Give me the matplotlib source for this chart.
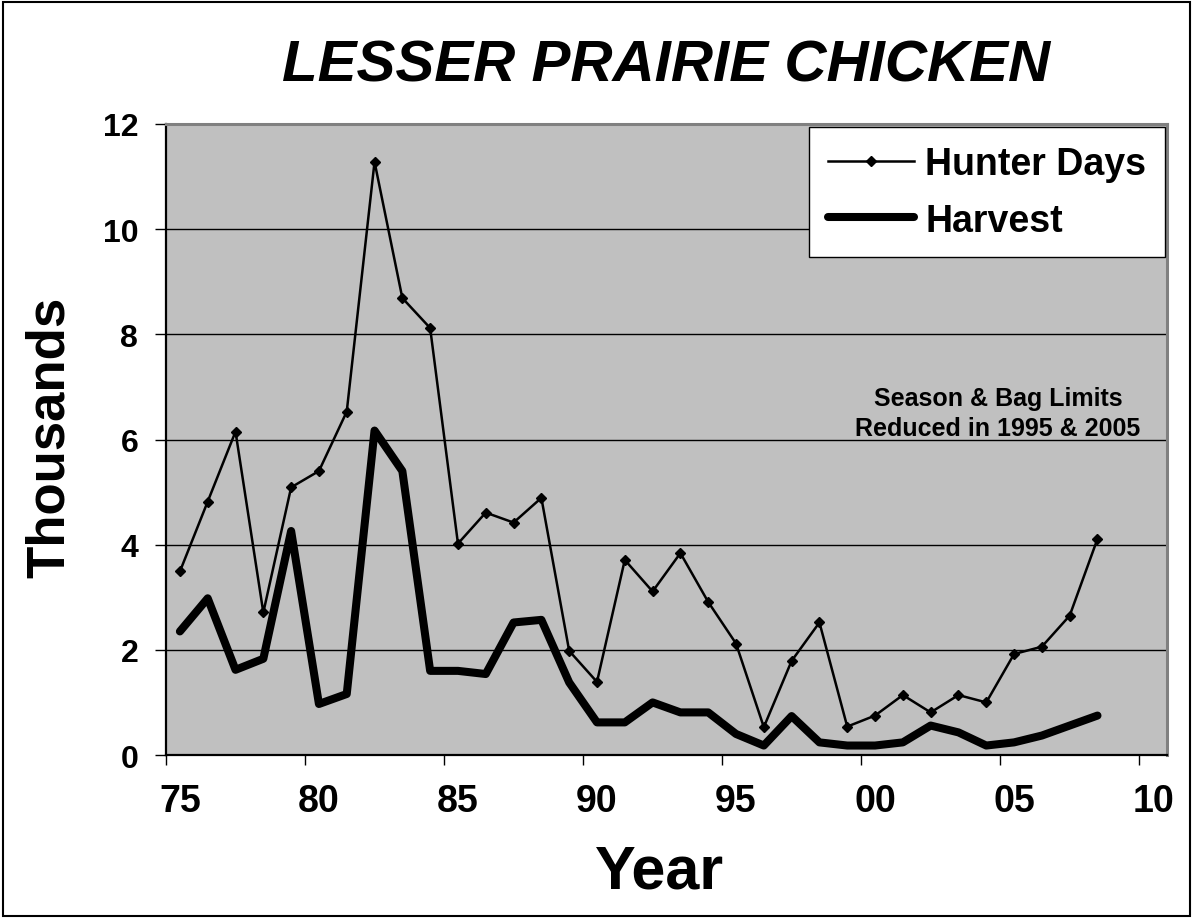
import matplotlib
matplotlib.use("Agg")
import matplotlib.pyplot as plt
from matplotlib.patches import Rectangle
import numpy as np

plt.rcParams['font.family'] = ['Liberation Sans', 'DejaVu Sans']

# ---- data (thousands) ----
years = list(range(1975, 2009))
hunter_days = [3.49, 4.82, 6.15, 2.71, 5.09, 5.40, 6.53, 11.28, 8.69, 8.12,
               4.02, 4.61, 4.42, 4.89, 1.98, 1.39, 3.71, 3.11, 3.84, 2.91,
               2.12, 0.53, 1.79, 2.52, 0.54, 0.75, 1.14, 0.81, 1.14, 1.00,
               1.92, 2.06, 2.65, 4.11]
harvest = [2.35, 2.98, 1.62, 1.83, 4.26, 0.97, 1.16, 6.17, 5.40, 1.60,
           1.60, 1.54, 2.52, 2.57, 1.38, 0.62, 0.62, 1.00, 0.81, 0.81,
           0.40, 0.18, 0.74, 0.24, 0.18, 0.18, 0.24, 0.56, 0.43, 0.18,
           0.24, 0.37, 0.56, 0.75]
tick_years = [1975, 1980, 1985, 1990, 1995, 2000, 2005, 2010]
tick_labels = ['75', '80', '85', '90', '95', '00', '05', '10']
y_ticks = [0, 2, 4, 6, 8, 10, 12]

title = 'LESSER PRAIRIE CHICKEN'
note_lines = ['Season & Bag Limits', 'Reduced in 1995 & 2005']

W, H = 1193, 920
fig = plt.figure(figsize=(W / 100, H / 100), dpi=100)
fig.patch.set_facecolor('white')

L, R, T, B = 166, 1167, 125, 756
ax = fig.add_axes([L / W, 1 - B / H, (R - L) / W, (B - T) / H])
ax.set_facecolor('#C0C0C0')

# categories centred between year ticks
x = np.array(years) + 0.5
ax.plot(x, hunter_days, color='black', lw=1.8, marker='D', markersize=5.5,
        label='Hunter Days', zorder=4)
ax.plot(x, harvest, color='black', lw=5.8, solid_joinstyle='round',
        solid_capstyle='round', label='Harvest', zorder=3)

ax.set_xlim(1975, 2011)
ax.set_ylim(0, 12)
ax.set_yticks(y_ticks)
ax.set_yticklabels([str(v) for v in y_ticks], fontsize=23, fontweight='bold')
ax.set_xticks(tick_years)
ax.set_xticklabels([])
ax.set_xticks(np.array(tick_years) + 0.5, minor=True)
ax.set_xticklabels(tick_labels, minor=True, fontsize=27, fontweight='bold')
ax.tick_params(axis='x', which='minor', length=0, pad=20)
ax.tick_params(axis='x', which='major', direction='out', length=7.5, width=1, color='black')
ax.tick_params(axis='y', direction='out', length=8, width=1, pad=12, color='black')

ax.yaxis.grid(True, color='black', lw=1)
ax.set_axisbelow(True)

for s in ['left', 'bottom']:
    ax.spines[s].set_color('black')
    ax.spines[s].set_linewidth(1.6)
for s in ['top', 'right']:
    ax.spines[s].set_color('#808080')
    ax.spines[s].set_linewidth(2.2)

leg = ax.legend(loc='upper right', bbox_to_anchor=(0.998, 0.995), borderaxespad=0,
                prop={'weight': 'bold', 'size': 27}, frameon=True,
                fancybox=False, edgecolor='black', facecolor='white', framealpha=1,
                handlelength=2.3, handletextpad=0.3, labelspacing=0.55, borderpad=0.5)
leg.get_frame().set_linewidth(1.0)

fig.text(666 / W, 1 - 82 / H, title, ha='center', va='baseline', fontsize=42,
         fontweight='bold', fontstyle='italic')
fig.text(50 / W, 1 - 437 / H, 'Thousands', rotation=90, ha='center', va='center',
         fontsize=38, fontweight='bold')
fig.text(660 / W, 1 - 889 / H, 'Year', ha='center', va='baseline', fontsize=44,
         fontweight='bold')
fig.text(998 / W, 1 - 406 / H, note_lines[0], ha='center', va='baseline', fontsize=18,
         fontweight='bold')
fig.text(998 / W, 1 - 436 / H, note_lines[1], ha='center', va='baseline', fontsize=18,
         fontweight='bold')

fig.add_artist(Rectangle((3 / W, 3 / H), (W - 6) / W, (H - 6) / H, transform=fig.transFigure,
                         fill=False, edgecolor='black', lw=1.5))

fig.savefig('out.png', dpi=100)
